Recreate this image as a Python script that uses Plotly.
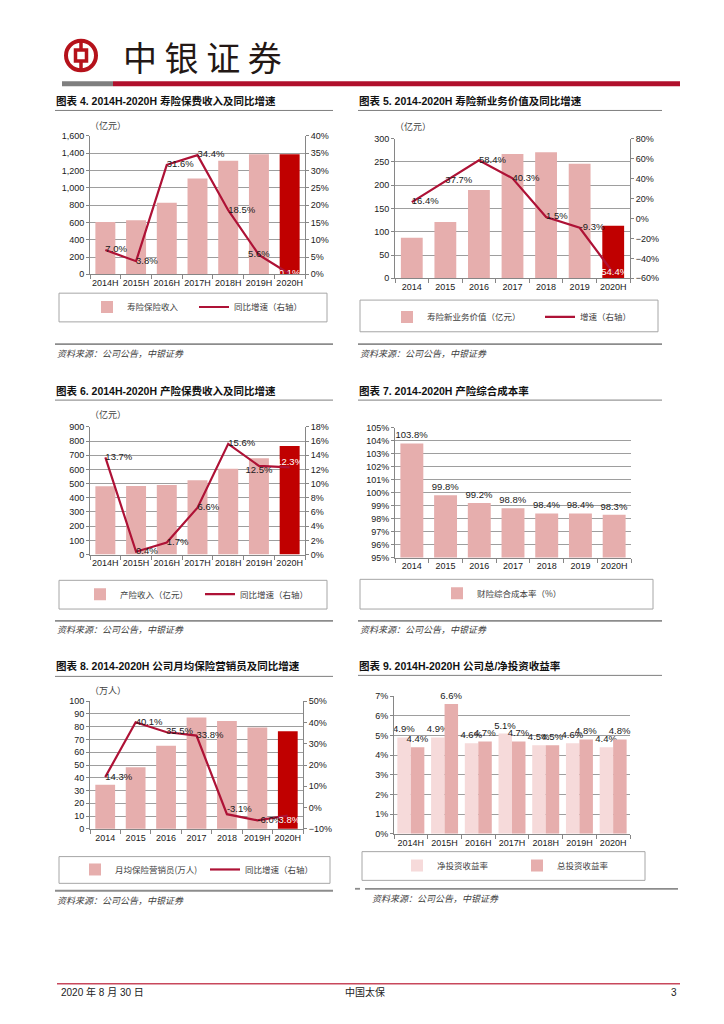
import plotly.graph_objects as go

W, H = 724, 1024

# ---------------- data ----------------
cats_h = ["2014H", "2015H", "2016H", "2017H", "2018H", "2019H", "2020H"]
cats_y = ["2014", "2015", "2016", "2017", "2018", "2019", "2020H"]
cats_agent = ["2014", "2015", "2016", "2017", "2018", "2019H", "2020H"]

life_premium = [605, 625, 825, 1105, 1310, 1385, 1385]
life_premium_growth = [7.0, 3.8, 31.6, 34.4, 18.5, 5.6, 0.1]

nbv = [87, 121, 190, 267, 271, 246, 113]
nbv_growth = [16.4, 37.7, 58.4, 40.3, 1.5, -9.3, -54.4]

pc_premium = [481, 483, 491, 523, 605, 679, 765]
pc_growth = [13.7, 0.4, 1.7, 6.6, 15.6, 12.5, 12.3]

combined_ratio = [103.8, 99.8, 99.2, 98.8, 98.4, 98.4, 98.3]

agents = [34.6, 48.3, 65.1, 87.1, 84.5, 79.3, 76.5]
agents_growth = [14.3, 40.1, 35.5, 33.8, -3.1, -6.0, -3.8]

net_yield = [4.9, 4.9, 4.6, 5.1, 4.5, 4.6, 4.4]
total_yield = [4.4, 6.6, 4.7, 4.7, 4.5, 4.8, 4.8]

# ---------------- style ----------------
PINK = "#E6AEAD"
DARK = "#C00000"
LINE = "#AE1236"
LIGHT = "#F6DADA"
GRID = "#9E9E9E"
AXIS = "#868686"
TXT = "#1A1A1A"
NUM = "Liberation Sans, Arial, Noto Sans CJK SC"
CJK = "Noto Sans CJK SC"
BRAND = "#B5121B"


def px_x(x):
    return x / W


def px_y(y):
    return 1 - y / H


def dom_x(a, b):
    return [a / W, b / W]


def dom_y(top, bottom):
    return [1 - bottom / H, 1 - top / H]


def lname(a):
    return a[0] + "axis" + a[1:]


def pct(vals):
    return [f"{v:.1f}%" for v in vals]


def bar_colors(n):
    return [PINK] * (n - 1) + [DARK]


def label_colors(n):
    return [TXT] * (n - 1) + ["white"]


fig = go.Figure()
layout = {}

tickfont = dict(family=NUM, size=9, color=TXT)
LBL = 9.5


def x_axis(anchor, xd, yd):
    return dict(domain=dom_x(*xd), anchor=anchor, type="category", range=[-0.5, 6.5],
                showline=True, linecolor=AXIS, linewidth=1, ticks="outside",
                tickson="boundaries", ticklen=4, tickcolor=AXIS, showgrid=False,
                tickangle=0, tickfont=tickfont, fixedrange=True)


def y_left(anchor, yd, rng, dtick, fmt="", suffix=""):
    return dict(domain=dom_y(*yd), anchor=anchor, range=rng, dtick=dtick, tick0=rng[0],
                showline=True, linecolor=AXIS, linewidth=1, ticks="outside", ticklen=3,
                tickcolor=AXIS, showgrid=True, gridcolor=GRID, gridwidth=1,
                zeroline=False, tickfont=tickfont, tickformat=fmt, ticksuffix=suffix,
                fixedrange=True)


def y_right(over, anchor, rng, dtick):
    return dict(overlaying=over, anchor=anchor, side="right", range=rng, dtick=dtick,
                tick0=rng[0], showline=True, linecolor=AXIS, linewidth=1, ticks="outside",
                ticklen=3, tickcolor=AXIS, showgrid=False, zeroline=False,
                tickfont=tickfont, ticksuffix="%", fixedrange=True)


def combo(xa, yl, yr, xd, yd, cats, bars, line, lrng, ldt, lfmt, rrng, rdt,
          bname, lnname, leg1, leg2, tpos):
    layout[lname(xa)] = x_axis(yl, xd, yd)
    layout[lname(yl)] = y_left(xa, yd, lrng, ldt, lfmt)
    layout[lname(yr)] = y_right(yl, xa, rrng, rdt)
    fig.add_trace(go.Bar(x=cats, y=bars, xaxis=xa, yaxis=yl, width=0.65,
                         marker=dict(color=bar_colors(len(bars)), line=dict(width=0)),
                         name=bname, legend=leg1, hoverinfo="skip"))
    fig.add_trace(go.Scatter(x=cats, y=line, xaxis=xa, yaxis=yr, mode="lines+text",
                             line=dict(color=LINE, width=2.2), text=pct(line),
                             textposition=tpos, cliponaxis=True,
                             textfont=dict(family=NUM, size=LBL, color=label_colors(len(line))),
                             name=lnname, legend=leg2, hoverinfo="skip"))


# Chart 4
combo("x", "y", "y2", (90, 305), (132, 272), cats_h, life_premium, life_premium_growth,
      [0, 1600], 200, ",", [0, 40], 5, "寿险保险收入", "同比增速（右轴）", "legend", "legend2",
      ["middle right"] * 5 + ["middle center", "middle center"])
# Chart 5
combo("x2", "y3", "y4", (395, 630), (135, 276), cats_y, nbv, nbv_growth,
      [0, 300], 50, "", [-60, 80], 20, "寿险新业务价值（亿元）", "增速（右轴）", "legend3", "legend4",
      ["middle right"] * 6 + ["middle center"])
# Chart 6
combo("x3", "y5", "y6", (90, 305), (426, 555), cats_h, pc_premium, pc_growth,
      [0, 900], 100, "", [0, 18], 2, "产险收入（亿元）", "同比增速（右轴）", "legend5", "legend6",
      ["middle right"] * 5 + ["bottom center", "top center"])
# Chart 8
combo("x5", "y8", "y9", (90, 303), (703, 832), cats_agent, agents, agents_growth,
      [0, 100], 10, "", [-10, 50], 10, "月均保险营销员(万人)", "同比增速（右轴）", "legend8", "legend9",
      ["middle right"] * 4 + ["top right", "middle right", "bottom center"])

# Chart 7
layout["xaxis4"] = x_axis("y7", (395, 631), (427, 558))
layout["yaxis7"] = y_left("x4", (427, 558), [95, 105], 1, "", "%")
fig.add_trace(go.Bar(x=cats_y, y=combined_ratio, xaxis="x4", yaxis="y7", width=0.68,
                     marker=dict(color=PINK, line=dict(width=0)), text=pct(combined_ratio),
                     textposition="outside", constraintext="none", cliponaxis=False,
                     textfont=dict(family=NUM, size=LBL, color=TXT),
                     name="财险综合成本率（%）", legend="legend7", hoverinfo="skip"))

# Chart 9
layout["xaxis6"] = x_axis("y10", (394, 630), (698, 837))
layout["yaxis10"] = y_left("x6", (698, 837), [0, 7], 1, "", "%")
fig.add_trace(go.Bar(x=cats_h, y=net_yield, xaxis="x6", yaxis="y10", width=0.4, offset=-0.4,
                     marker=dict(color=LIGHT, line=dict(width=0)), text=pct(net_yield),
                     textposition="outside", constraintext="none", cliponaxis=False,
                     textfont=dict(family=NUM, size=LBL, color=TXT),
                     name="净投资收益率", legend="legend10", hoverinfo="skip"))
fig.add_trace(go.Bar(x=cats_h, y=total_yield, xaxis="x6", yaxis="y10", width=0.4, offset=0.0,
                     marker=dict(color=PINK, line=dict(width=0)), text=pct(total_yield),
                     textposition="outside", constraintext="none", cliponaxis=False,
                     textfont=dict(family=NUM, size=LBL, color=TXT),
                     name="总投资收益率", legend="legend11", hoverinfo="skip"))

# ---------------- legends ----------------
LEG_OFF = 33
legend_pos = {
    "legend": (120, 305), "legend2": (227, 305),
    "legend3": (420, 315), "legend4": (573, 315),
    "legend5": (113, 595), "legend6": (233, 595),
    "legend7": (470, 594),
    "legend8": (108, 873), "legend9": (238, 873),
    "legend10": (430, 869), "legend11": (550, 869),
}
for k, (tx, ty) in legend_pos.items():
    layout[k] = dict(x=px_x(tx - LEG_OFF), xanchor="left", y=px_y(ty), yanchor="middle",
                     orientation="h", bgcolor="rgba(0,0,0,0)", borderwidth=0,
                     font=dict(family=CJK, size=8.5, color="#404040"),
                     itemclick=False, itemdoubleclick=False)

# ---------------- shapes ----------------
shapes = []


def line(x0, y0, x1, y1, color, width):
    shapes.append(dict(type="line", xref="paper", yref="paper", x0=px_x(x0), x1=px_x(x1),
                       y0=px_y(y0), y1=px_y(y1), line=dict(color=color, width=width)))


def rect(x0, y0, x1, y1, fill=None, color=None, width=0):
    shapes.append(dict(type="rect", xref="paper", yref="paper", x0=px_x(x0), x1=px_x(x1),
                       y0=px_y(y1), y1=px_y(y0), fillcolor=fill or "rgba(0,0,0,0)",
                       line=dict(color=color or "rgba(0,0,0,0)", width=width)))


# header logo
shapes.append(dict(type="circle", xref="paper", yref="paper", x0=px_x(66), x1=px_x(96),
                   y0=px_y(66), y1=px_y(36), line=dict(color=BRAND, width=4)))
rect(75.5, 45.5, 86.5, 56.5, color=BRAND, width=3.5)
line(81, 36, 81, 46, BRAND, 3.5)
line(81, 56, 81, 66, BRAND, 3.5)
rect(62, 77, 113, 82, fill="#7F7F7F")
rect(113, 77, 680, 82, fill="#B0102C")

# title underlines
for (x0, x1, y) in [(55, 333, 106.5), (358, 662, 106.5), (55, 333, 399), (358, 662, 399),
                    (55, 333, 678), (358, 662, 677)]:
    line(x0, y, x1, y, "#7F7F7F", 1)
# source lines
for (x0, x1, y) in [(55, 333, 342.5), (358, 662, 342.5), (55, 333, 622), (358, 662, 622),
                    (55, 333, 894.5), (365, 678, 892.5), (355, 360, 892.5)]:
    line(x0, y, x1, y, "#8C8C8C", 1.8)
# legend boxes
for (x0, y0, x1, y1) in [(59, 291, 327, 320), (360, 298, 658, 330), (59, 581, 327, 610),
                         (360, 580, 653, 610), (59, 860, 330, 887), (362, 855, 645, 884)]:
    rect(x0, y0, x1, y1, color="#A6A6A6", width=1)
# footer
line(57, 988.5, 680, 988.5, "#C8485C", 1.5)

# ---------------- annotations ----------------
ann = []


def text(x, y, s, size=9, color=TXT, family=CJK, xanchor="left"):
    ann.append(dict(xref="paper", yref="paper", x=px_x(x), y=px_y(y), text=s, showarrow=False,
                    xanchor=xanchor, yanchor="middle", font=dict(family=family, size=size, color=color)))


text(121, 52, "中 银 证 券", size=34, color="#231815")

TF = NUM
text(54, 97, "<b>图表 4. 2014H-2020H 寿险保费收入及同比增速</b>", 10.5, "#111", TF)
text(357, 97, "<b>图表 5. 2014-2020H 寿险新业务价值及同比增速</b>", 10.5, "#111", TF)
text(54, 390, "<b>图表 6. 2014H-2020H 产险保费收入及同比增速</b>", 10.5, "#111", TF)
text(357, 390, "<b>图表 7. 2014-2020H 产险综合成本率</b>", 10.5, "#111", TF)
text(54, 668, "<b>图表 8. 2014-2020H 公司月均保险营销员及同比增速</b>", 10.5, "#111", TF)
text(357, 668, "<b>图表 9. 2014H-2020H 公司总/净投资收益率</b>", 10.5, "#111", TF)

text(88, 122, "（亿元）", 9, "#404040")
text(393, 123, "（亿元）", 9, "#404040")
text(88, 414, "（亿元）", 9, "#404040")
text(88, 692, "（万人）", 9, "#404040")

src = "<i>资料来源：公司公告，中银证券</i>"
for (x, y) in [(55, 352), (358, 352), (55, 631), (358, 631), (55, 904), (370, 902)]:
    text(x, y, src, 9, "#404040")

text(59, 997, "2020 年 8 月 30 日", 10, "#222", TF)
text(365, 997, "中国太保", 10, "#222", TF, "center")
text(679, 997, "3", 10, "#222", TF, "right")

layout.update(dict(
    width=W, height=H, autosize=False, margin=dict(l=0, r=0, t=0, b=0),
    paper_bgcolor="white", plot_bgcolor="rgba(0,0,0,0)", barmode="overlay",
    showlegend=True, shapes=shapes, annotations=ann, hovermode=False,
    font=dict(family=NUM, color=TXT),
))
fig.update_layout(**layout)

fig.write_html("out.html", config={"displayModeBar": False},
               post_script="document.body.style.margin='0';")
